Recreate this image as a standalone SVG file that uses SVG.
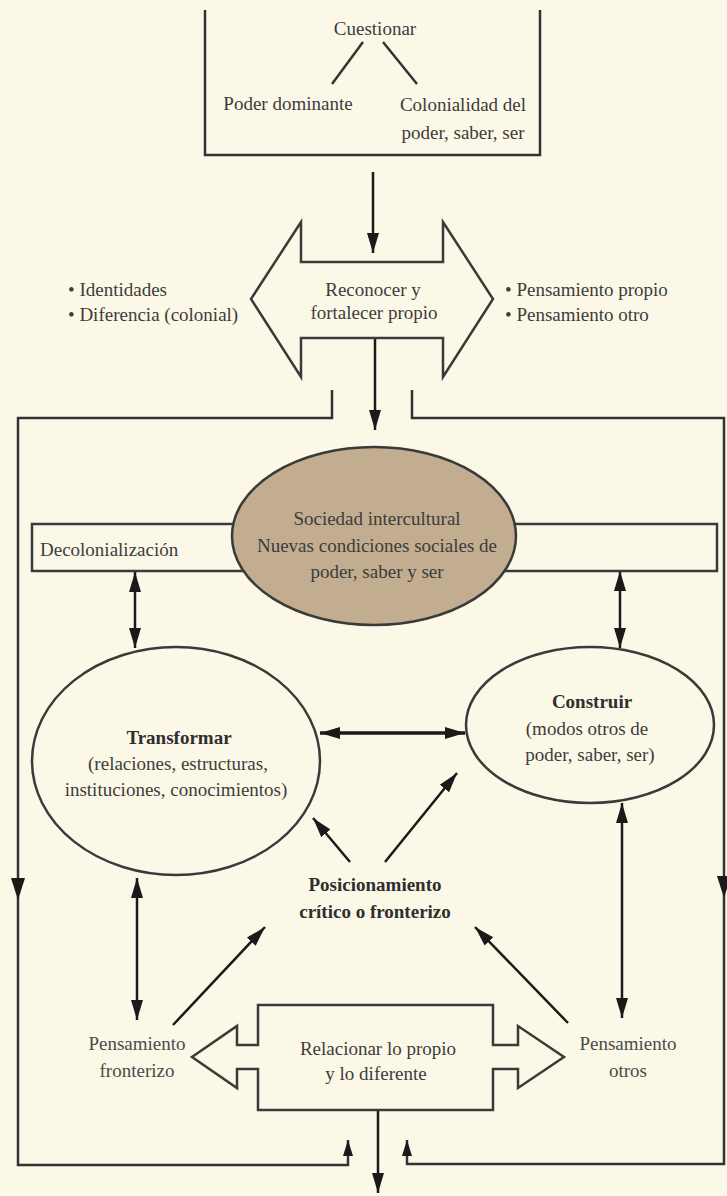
<svg xmlns="http://www.w3.org/2000/svg" width="727" height="1196" viewBox="0 0 727 1196">
<defs>
<marker id="ah" markerUnits="userSpaceOnUse" markerWidth="22" markerHeight="14" refX="20" refY="7" orient="auto-start-reverse"><path d="M0,1 L20,7 L0,13 z" fill="#1a1a1a"/></marker>
<marker id="ahs" markerUnits="userSpaceOnUse" markerWidth="18" markerHeight="12" refX="16" refY="6" orient="auto-start-reverse"><path d="M0,1 L16,6 L0,11 z" fill="#1a1a1a"/></marker>
</defs>
<style>
.ln{stroke:#333;stroke-width:2.5;fill:none}
.sh{stroke:#3a3a3a;stroke-width:2.5;fill:#fcf8e8}
.ar{stroke:#1a1a1a;stroke-width:2.5;fill:none}
.thick{stroke-width:3.5}
text{font-family:"Liberation Serif","Times New Roman",serif;fill:#3c3c3c;font-size:19px}
.c{text-anchor:middle}
.b{font-weight:bold;fill:#2e2e2e}
.lt{fill:#4a4a4a}
</style>
<rect width="727" height="1196" fill="#fcf8e8"/>

<g id="connectors">
  <line class="ar" x1="373" y1="172" x2="373" y2="253" marker-end="url(#ah)"/>
  <line class="ar" x1="375" y1="338" x2="375" y2="430" marker-end="url(#ah)"/>
  <path class="ln" d="M332,390 V418 H18 V1165 H348 V1140" marker-end="url(#ahs)"/>
  <path class="ln" d="M412,390 V418 H724 V1164 H407 V1140" marker-end="url(#ahs)"/>
  <polygon points="11,878 25,878 18,900" fill="#1a1a1a"/>
  <polygon points="717,876 731,876 724,898" fill="#1a1a1a"/>
  <line class="ar" x1="135" y1="572" x2="135" y2="648" marker-start="url(#ah)" marker-end="url(#ah)"/>
  <line class="ar" x1="620" y1="571" x2="620" y2="648" marker-start="url(#ah)" marker-end="url(#ah)"/>
  <line class="ar thick" x1="320" y1="733" x2="465" y2="733" marker-start="url(#ah)" marker-end="url(#ah)"/>
  <line class="ar" x1="350" y1="862" x2="313" y2="818" marker-end="url(#ah)"/>
  <line class="ar" x1="385" y1="862" x2="457" y2="773" marker-end="url(#ah)"/>
  <line class="ar" x1="137" y1="878" x2="137" y2="1020" marker-start="url(#ah)" marker-end="url(#ah)"/>
  <line class="ar" x1="173" y1="1025" x2="265" y2="927" marker-end="url(#ah)"/>
  <line class="ar" x1="622" y1="803" x2="622" y2="1018" marker-start="url(#ah)" marker-end="url(#ah)"/>
  <line class="ar" x1="568" y1="1023" x2="475" y2="927" marker-end="url(#ah)"/>
  <line class="ar" x1="378" y1="1110" x2="378" y2="1193" marker-end="url(#ah)"/>
</g>

<g id="cuestionar">
  <path class="ln" d="M205,10 V155 H540 V10"/>
  <text class="c" x="375" y="35">Cuestionar</text>
  <line class="ln" x1="363" y1="42" x2="332" y2="84"/>
  <line class="ln" x1="383" y1="42" x2="417" y2="84"/>
  <text class="c" x="288" y="110">Poder dominante</text>
  <text class="c" x="463" y="111">Colonialidad del</text>
  <text class="c" x="463" y="139">poder, saber, ser</text>
</g>

<g id="reconocer">
  <polygon class="sh" points="301,222 301,262 443,262 443,222 493,299 443,377 443,338 301,338 301,377 251,299"/>
  <text class="c" x="373" y="296">Reconocer y</text>
  <text class="c" x="374" y="319">fortalecer propio</text>
</g>

<g id="identidades">
  <text x="68" y="296">• Identidades</text>
  <text x="68" y="321">• Diferencia (colonial)</text>
</g>

<g id="pensamientos">
  <text x="505" y="296">• Pensamiento propio</text>
  <text x="505" y="321">• Pensamiento otro</text>
</g>

<g id="decolonializacion">
  <rect class="sh" x="32" y="524" width="685" height="47"/>
  <text x="40" y="556">Decolonialización</text>
</g>

<g id="sociedad">
  <ellipse cx="374" cy="536" rx="142" ry="89" fill="#c2ad90" stroke="#3a3a3a" stroke-width="2.5"/>
  <text class="c" x="377" y="525">Sociedad intercultural</text>
  <text class="c" x="377" y="552">Nuevas condiciones sociales de</text>
  <text class="c" x="377" y="578">poder, saber y ser</text>
</g>

<g id="transformar">
  <ellipse class="sh" cx="176" cy="761" rx="144" ry="114"/>
  <text class="c b" x="179" y="744">Transformar</text>
  <text class="c" x="178" y="770">(relaciones, estructuras,</text>
  <text class="c" x="176" y="796">instituciones, conocimientos)</text>
</g>

<g id="construir">
  <ellipse class="sh" cx="590" cy="725" rx="124" ry="78"/>
  <text class="c b" x="592" y="708">Construir</text>
  <text class="c" x="587" y="735">(modos otros de</text>
  <text class="c" x="590" y="761">poder, saber, ser)</text>
</g>

<g id="posicionamiento">
  <text class="c b" x="375" y="891">Posicionamiento</text>
  <text class="c b" x="375" y="918">crítico o fronterizo</text>
</g>

<g id="pensamiento-fronterizo">
  <text class="c lt" x="137" y="1050">Pensamiento</text>
  <text class="c lt" x="137" y="1077">fronterizo</text>
</g>

<g id="pensamiento-otros">
  <text class="c lt" x="628" y="1050">Pensamiento</text>
  <text class="c lt" x="628" y="1077">otros</text>
</g>

<g id="relacionar">
  <polygon class="sh" points="258,1005 493,1005 493,1045 518,1045 518,1026 564,1057 518,1088 518,1069 493,1069 493,1110 258,1110 258,1069 237,1069 237,1088 192,1057 237,1026 237,1045 258,1045"/>
  <text class="c" x="378" y="1055">Relacionar lo propio</text>
  <text class="c" x="376" y="1080">y lo diferente</text>
</g>
</svg>
